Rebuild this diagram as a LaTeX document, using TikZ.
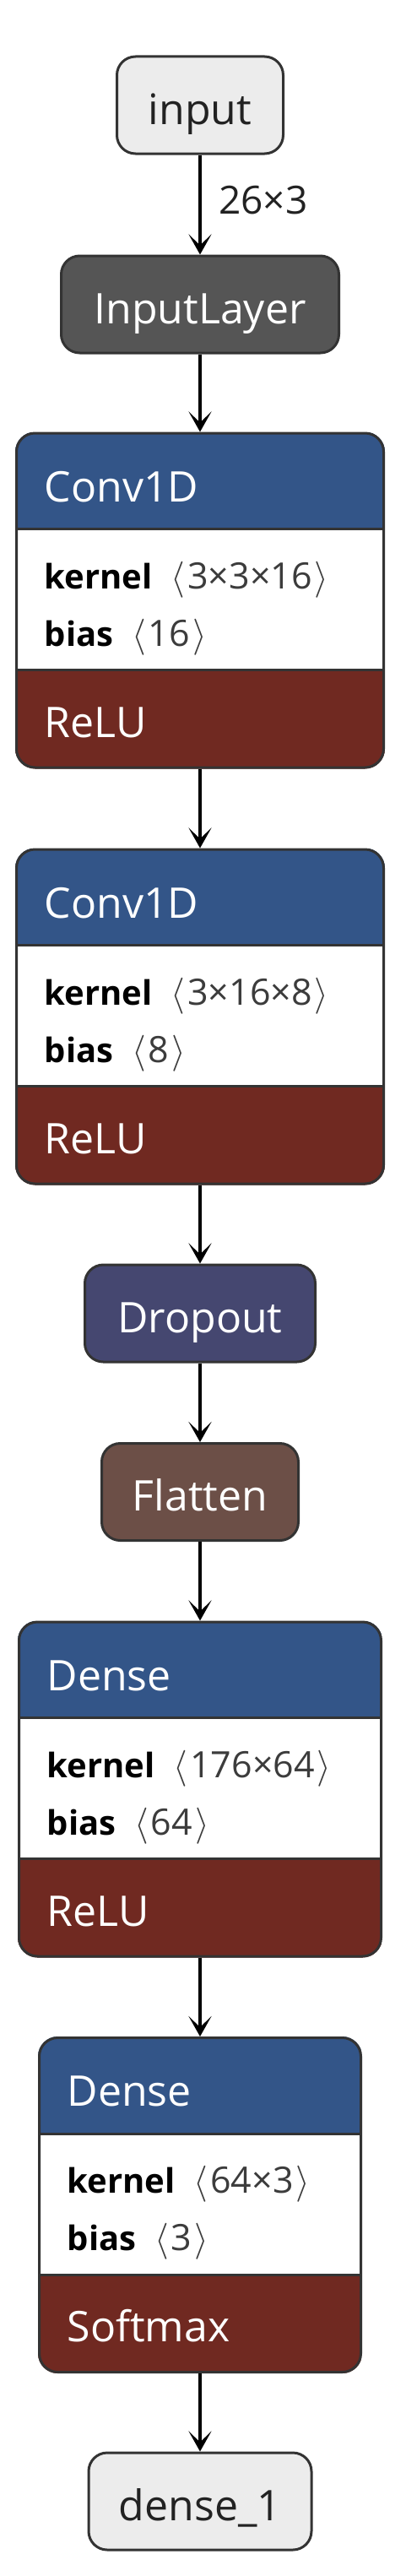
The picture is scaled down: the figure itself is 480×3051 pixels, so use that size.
\RequirePackage{fix-cm}
\documentclass[tikz,border=0pt]{standalone}
\usepackage{fontspec}
\setmainfont{Open Sans}
\usetikzlibrary{arrows.meta,backgrounds}
\definecolor{layerblue}{RGB}{51,85,136}
\definecolor{actred}{RGB}{112,41,33}
\definecolor{dropc}{RGB}{69,71,112}
\definecolor{flatc}{RGB}{108,79,71}
\definecolor{inlayc}{RGB}{85,85,85}
\definecolor{iofill}{RGB}{236,236,236}
\definecolor{bordc}{RGB}{51,51,51}
\definecolor{valc}{RGB}{60,60,60}
\definecolor{iotext}{RGB}{34,34,34}

\newcommand{\valfont}{\fontsize{43}{50}\selectfont}

\tikzset{
  every node/.style={inner sep=0pt},
  simplebox/.style={draw=bordc, line width=3pt, rounded corners=22pt,
    minimum height=115pt, text height=50pt, text depth=5pt,
    font=\fontsize{50}{60}\selectfont, text=white},
  iobox/.style={simplebox, fill=iofill, text=iotext},
  layerframe/.style={draw=bordc, line width=3pt, rounded corners=22pt, minimum height=396pt},
  divline/.style={draw=bordc, line width=3pt},
  ttl/.style={font=\fontsize{50}{60}\selectfont, text=white},
  attr/.style={font=\fontsize{40}{48}\selectfont, text=black},
  lbl/.style={font=\fontsize{46}{55}\selectfont, text=iotext},
  arr/.style={draw=black, line width=3.5pt, -{Stealth[length=24pt,width=27pt,inset=13pt]}},
}

\newcommand{\layerbox}[8]{%
  \node[layerframe, minimum width=#4pt] (#1) at (#2,#3+198) {};
  \begin{scope}[on background layer]
    \begin{scope}
      \clip[rounded corners=23.5pt] (#1.south west) rectangle (#1.north east);
      \fill[layerblue] (#1.north west) rectangle ([yshift=-115pt]#1.north east);
      \fill[white] ([yshift=-115pt]#1.north west) rectangle ([yshift=-282pt]#1.north east);
      \fill[actred] ([yshift=-282pt]#1.north west) rectangle (#1.south east);
    \end{scope}
  \end{scope}
  \draw[divline] ([yshift=-115pt]#1.north west) -- ([yshift=-115pt]#1.north east);
  \draw[divline] ([yshift=-282pt]#1.north west) -- ([yshift=-282pt]#1.north east);
  \node[ttl, anchor=base west] (#1-title) at (#2-#4/2+33,#3+81) {#5};
  \node[attr, anchor=base west] (#1-kernel) at (#2-#4/2+33,#3+184)
    {\textbf{kernel}\hspace{22pt}{\valfont\color{valc}$\langle$\hspace{3pt}#6\hspace{3pt}$\rangle$}};
  \node[attr, anchor=base west] (#1-bias) at (#2-#4/2+33,#3+252)
    {\textbf{bias}\hspace{22pt}{\valfont\color{valc}$\langle$\hspace{3pt}#7\hspace{3pt}$\rangle$}};
  \node[ttl, anchor=base west] (#1-act) at (#2-#4/2+33,#3+360) {#8};
}

\begin{document}
\begin{tikzpicture}[x=1pt,y=-1pt]
  \useasboundingbox (0,0) rectangle (480,3051);
  \begin{scope}[on background layer]
    \fill[white] (0,0) rectangle (480,3051);
  \end{scope}

  \node[iobox, minimum width=197pt] (input) at (237,124.5) {input};
  \node[simplebox, fill=inlayc, minimum width=329pt] (inlayer) at (237,360.5) {InputLayer};
  \layerbox{conv1}{237}{513}{435}{Conv1D}{3×3×16}{16}{ReLU}
  \layerbox{conv2}{237}{1006}{435}{Conv1D}{3×16×8}{8}{ReLU}
  \node[simplebox, fill=dropc, minimum width=273pt] (dropout) at (237,1555.5) {Dropout};
  \node[simplebox, fill=flatc, minimum width=233pt] (flatten) at (237,1767) {Flatten};
  \layerbox{dense}{237}{1921}{429}{Dense}{176×64}{64}{ReLU}
  \layerbox{dense2}{237}{2413.5}{381}{Dense}{64×3}{3}{Softmax}
  \node[iobox, minimum width=264pt] (output) at (237,2962.5) {dense\_1};

  \draw[arr] (input.south) -- (inlayer.north);
  \node[lbl, anchor=base west] (shape) at (259,253) {26×3};
  \draw[arr] (inlayer.south) -- (conv1.north);
  \draw[arr] (conv1.south) -- (conv2.north);
  \draw[arr] (conv2.south) -- (dropout.north);
  \draw[arr] (dropout.south) -- (flatten.north);
  \draw[arr] (flatten.south) -- (dense.north);
  \draw[arr] (dense.south) -- (dense2.north);
  \draw[arr] (dense2.south) -- (output.north);
\end{tikzpicture}
\end{document}
